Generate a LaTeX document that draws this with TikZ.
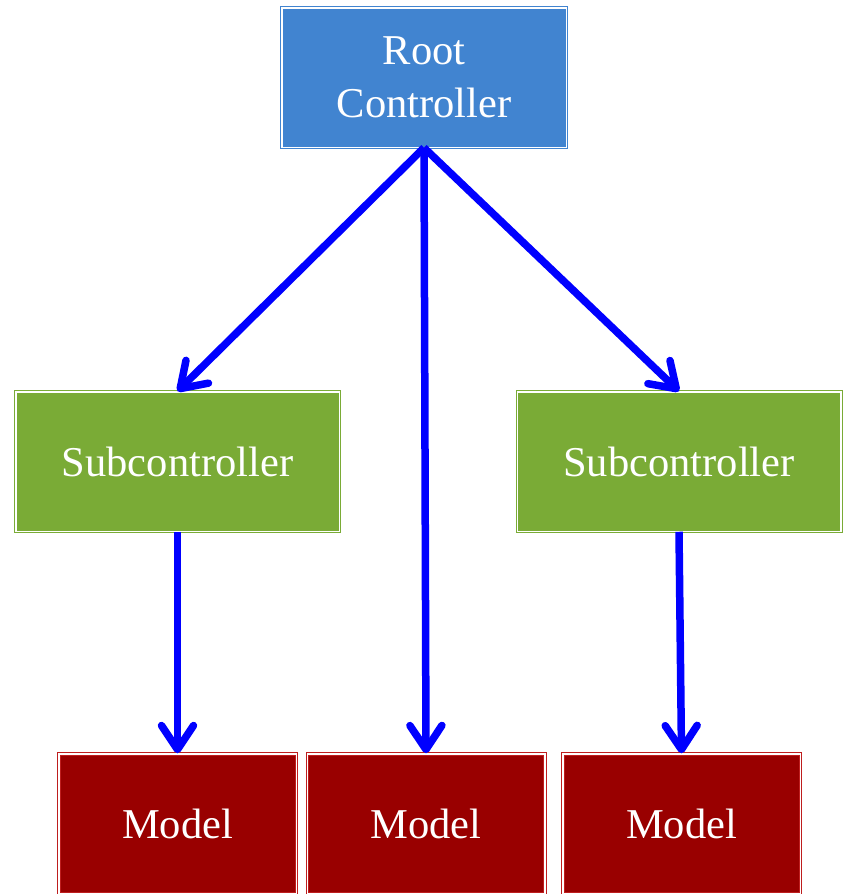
\documentclass[tikz,border=0pt]{standalone}
\usepackage{fontspec}
\setmainfont{Liberation Serif}
\usetikzlibrary{arrows.meta}
\definecolor{rootblue}{RGB}{65,132,208}
\definecolor{subgreen}{RGB}{122,171,54}
\definecolor{modelred}{RGB}{153,0,0}
\definecolor{modelrim}{RGB}{190,30,30}
\definecolor{arrowblue}{RGB}{0,0,255}
\begin{document}
\begin{tikzpicture}[x=1pt,y=-1pt,
  box/.style={rectangle, line width=1pt, double=white, double distance=1.5pt,
    text=white, align=center, inner sep=0pt,
    minimum width=#1, minimum height=139.5pt,
    font=\fontsize{42.5}{53}\selectfont},
  rootbox/.style={box=284.5pt, draw=rootblue, fill=rootblue},
  subbox/.style={box=323.5pt, draw=subgreen, fill=subgreen},
  modelbox/.style={box=237.5pt, draw=modelrim, fill=modelred},
  link/.style={draw=arrowblue, line width=7.5pt,
    -{Straight Barb[length=24pt,width=32pt,line cap=round,line join=round]}}]
\useasboundingbox (0,0) rectangle (843,894);
\node[rootbox] (root) at (424,77.5) {Root\\Controller};
\node[subbox] (subL) at (177.5,461.5) {Subcontroller};
\node[subbox] (subR) at (679,461.5) {Subcontroller};
\node[modelbox] (modL) at (177.5,823.5) {Model};
\node[modelbox] (modM) at (426,823.5) {Model};
\node[modelbox] (modR) at (681.5,823.5) {Model};
\draw[link] (root.south) -- (subL.north);
\draw[link] (root.south) -- (subR.north);
\draw[link] (root.south) -- (modM.north);
\draw[link] (subL.south) -- (modL.north);
\draw[link] (subR.south) -- (modR.north);
\end{tikzpicture}
\end{document}
